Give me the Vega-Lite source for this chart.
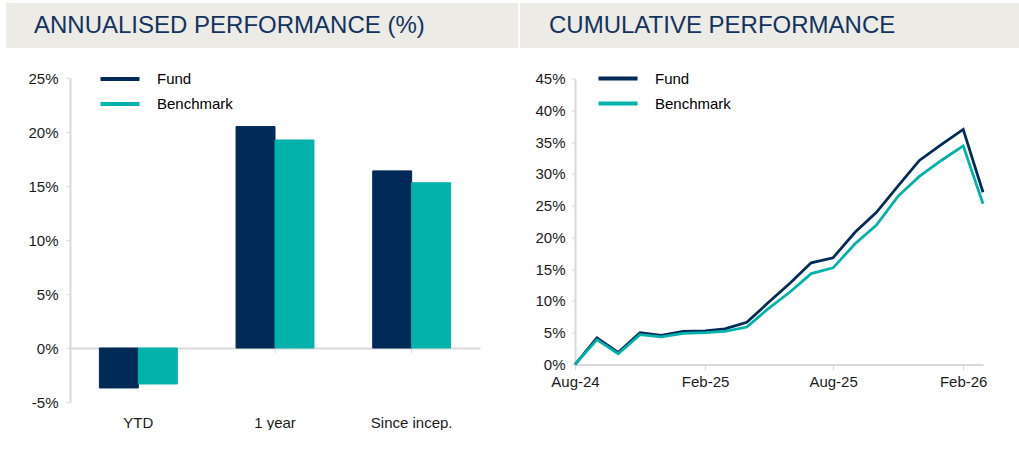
{
  "$schema": "https://vega.github.io/schema/vega-lite/v6.json",
  "background": "white",
  "padding": {"left": 6, "top": 3, "right": 0, "bottom": 0},
  "spacing": 2,
  "bounds": "full",
  "resolve": {"scale": {"color": "independent", "fill": "independent", "stroke": "independent"}, "legend": {"color": "independent", "fill": "independent", "stroke": "independent"}},
  "config": {
    "font": "Liberation Sans",
    "view": {"stroke": null},
    "axis": {"labelFont": "Liberation Sans", "labelFontSize": 15, "labelColor": "#1a1a1a", "domainColor": "#D9D9D9", "tickColor": "#D9D9D9", "grid": false},
    "title": {"font": "Liberation Sans", "fontSize": 24, "fontWeight": "normal", "color": "#13335F"}
  },
  "hconcat": [
    {
      "spacing": 19,
      "bounds": "full",
      "resolve": {"scale": {"fill": "independent", "stroke": "independent"}, "legend": {"fill": "independent", "stroke": "independent"}},
      "vconcat": [
        {
          "width": 512,
          "height": 45,
          "data": {"values": [{"panel": "annualised"}]},
          "mark": {"type": "rect", "color": "#ECEBE6"},
          "encoding": {},
          "title": {"text": "ANNUALISED PERFORMANCE (%)", "anchor": "start", "frame": "group", "orient": "top", "offset": -54, "dx": 28, "baseline": "alphabetic"}
        },
        {
          "width": 474,
          "height": 324,
          "data": {"values": [
            {"period": "YTD", "series": "Fund", "value": -0.037},
            {"period": "YTD", "series": "Benchmark", "value": -0.0333},
            {"period": "1 year", "series": "Fund", "value": 0.205},
            {"period": "1 year", "series": "Benchmark", "value": 0.1926},
            {"period": "Since incep.", "series": "Fund", "value": 0.164},
            {"period": "Since incep.", "series": "Benchmark", "value": 0.153}
          ]},
          "mark": {"type": "bar", "strokeWidth": 1},
          "encoding": {
            "x": {"field": "period", "type": "nominal", "sort": ["YTD", "1 year", "Since incep."], "scale": {"range": [64, 474], "paddingInner": 0.43, "paddingOuter": 0.215}, "axis": {"title": null, "labelAngle": 0, "offset": -54, "domainWidth": 2, "tickSize": 5, "labelPadding": 62}},
            "xOffset": {"field": "series", "type": "nominal", "sort": ["Fund", "Benchmark"], "scale": {"paddingInner": 0, "paddingOuter": 0}},
            "y": {"field": "value", "type": "quantitative", "scale": {"domain": [-0.05, 0.25], "nice": false}, "axis": {"title": null, "offset": -64, "values": [-0.05, 0, 0.05, 0.1, 0.15, 0.2, 0.25], "labelExpr": "datum.value < 0 ? '-' + format(-datum.value, '.0%') : format(datum.value, '.0%')", "tickSize": 4, "domainWidth": 2, "labelPadding": 8}},
            "fill": {"field": "series", "type": "nominal", "scale": {"domain": ["Fund", "Benchmark"], "range": ["#012A57", "#00B2A9"]}, "legend": {"title": null, "orient": "none", "legendX": 102, "legendY": -11, "symbolType": "M-2,0H2", "symbolSize": 380, "symbolStrokeWidth": 4, "labelFontSize": 15, "labelFont": "Liberation Sans", "labelColor": "#000000", "labelOffset": 25, "rowPadding": 5}},
            "stroke": {"field": "series", "type": "nominal", "scale": {"domain": ["Fund", "Benchmark"], "range": ["#012A57", "#00B2A9"]}, "legend": {"title": null, "orient": "none", "legendX": 102, "legendY": -11, "symbolType": "M-2,0H2", "symbolSize": 380, "symbolStrokeWidth": 4, "labelFontSize": 15, "labelFont": "Liberation Sans", "labelColor": "#000000", "labelOffset": 25, "rowPadding": 5}}
          }
        }
      ]
    },
    {
      "spacing": 18.5,
      "bounds": "full",
      "resolve": {"scale": {"color": "independent"}, "legend": {"color": "independent"}},
      "vconcat": [
        {
          "width": 499,
          "height": 45,
          "data": {"values": [{"panel": "cumulative"}]},
          "mark": {"type": "rect", "color": "#ECEBE6"},
          "encoding": {},
          "title": {"text": "CUMULATIVE PERFORMANCE", "anchor": "start", "frame": "group", "orient": "top", "offset": -54, "dx": 29, "baseline": "alphabetic"}
        },
        {
          "width": 463,
          "height": 286,
          "data": {"values": [
            {"date": "2024-08-01", "series": "Fund", "value": 0},
            {"date": "2024-09-01", "series": "Fund", "value": 0.042},
            {"date": "2024-10-01", "series": "Fund", "value": 0.019},
            {"date": "2024-11-01", "series": "Fund", "value": 0.05},
            {"date": "2024-12-01", "series": "Fund", "value": 0.046},
            {"date": "2025-01-01", "series": "Fund", "value": 0.052},
            {"date": "2025-02-01", "series": "Fund", "value": 0.053},
            {"date": "2025-03-01", "series": "Fund", "value": 0.056},
            {"date": "2025-04-01", "series": "Fund", "value": 0.0665},
            {"date": "2025-05-01", "series": "Fund", "value": 0.097},
            {"date": "2025-06-01", "series": "Fund", "value": 0.128},
            {"date": "2025-07-01", "series": "Fund", "value": 0.16},
            {"date": "2025-08-01", "series": "Fund", "value": 0.168},
            {"date": "2025-09-01", "series": "Fund", "value": 0.208},
            {"date": "2025-10-01", "series": "Fund", "value": 0.239},
            {"date": "2025-11-01", "series": "Fund", "value": 0.281},
            {"date": "2025-12-01", "series": "Fund", "value": 0.321},
            {"date": "2026-01-01", "series": "Fund", "value": 0.346},
            {"date": "2026-02-01", "series": "Fund", "value": 0.37},
            {"date": "2026-03-01", "series": "Fund", "value": 0.271},
            {"date": "2024-08-01", "series": "Benchmark", "value": 0},
            {"date": "2024-09-01", "series": "Benchmark", "value": 0.039},
            {"date": "2024-10-01", "series": "Benchmark", "value": 0.017},
            {"date": "2024-11-01", "series": "Benchmark", "value": 0.047},
            {"date": "2024-12-01", "series": "Benchmark", "value": 0.0435},
            {"date": "2025-01-01", "series": "Benchmark", "value": 0.049},
            {"date": "2025-02-01", "series": "Benchmark", "value": 0.05},
            {"date": "2025-03-01", "series": "Benchmark", "value": 0.052},
            {"date": "2025-04-01", "series": "Benchmark", "value": 0.059},
            {"date": "2025-05-01", "series": "Benchmark", "value": 0.0875},
            {"date": "2025-06-01", "series": "Benchmark", "value": 0.114},
            {"date": "2025-07-01", "series": "Benchmark", "value": 0.143},
            {"date": "2025-08-01", "series": "Benchmark", "value": 0.152},
            {"date": "2025-09-01", "series": "Benchmark", "value": 0.19},
            {"date": "2025-10-01", "series": "Benchmark", "value": 0.219},
            {"date": "2025-11-01", "series": "Benchmark", "value": 0.265},
            {"date": "2025-12-01", "series": "Benchmark", "value": 0.296},
            {"date": "2026-01-01", "series": "Benchmark", "value": 0.321},
            {"date": "2026-02-01", "series": "Benchmark", "value": 0.344},
            {"date": "2026-03-01", "series": "Benchmark", "value": 0.253}
          ]},
          "mark": {"type": "line", "strokeWidth": 2.75},
          "encoding": {
            "x": {"field": "date", "type": "temporal", "scale": {"type": "utc", "range": [55, 463], "domain": [{"year": 2024, "month": 8, "date": 1, "utc": true}, {"year": 2026, "month": 3, "date": 1, "utc": true}], "nice": false}, "axis": {"title": null, "format": "%b-%y", "values": [{"year": 2024, "month": 8, "date": 1, "utc": true}, {"year": 2025, "month": 2, "date": 1, "utc": true}, {"year": 2025, "month": 8, "date": 1, "utc": true}, {"year": 2026, "month": 2, "date": 1, "utc": true}], "tickSize": 5, "labelPadding": 5, "domainWidth": 2, "labelFlush": false, "labelOverlap": false}},
            "y": {"field": "value", "type": "quantitative", "scale": {"domain": [0, 0.45], "nice": false}, "axis": {"title": null, "offset": -55, "format": ".0%", "values": [0, 0.05, 0.1, 0.15, 0.2, 0.25, 0.3, 0.35, 0.4, 0.45], "tickSize": 4, "domainWidth": 2, "labelPadding": 6}},
            "color": {"field": "series", "type": "nominal", "sort": ["Fund", "Benchmark"], "scale": {"domain": ["Fund", "Benchmark"], "range": ["#012A57", "#00B2A9"]}, "legend": {"title": null, "orient": "none", "legendX": 86, "legendY": -12, "symbolType": "M-2,0H2", "symbolSize": 380, "symbolStrokeWidth": 4, "labelFontSize": 15, "labelFont": "Liberation Sans", "labelColor": "#000000", "labelOffset": 25, "rowPadding": 5}}
          }
        }
      ]
    }
  ]
}
